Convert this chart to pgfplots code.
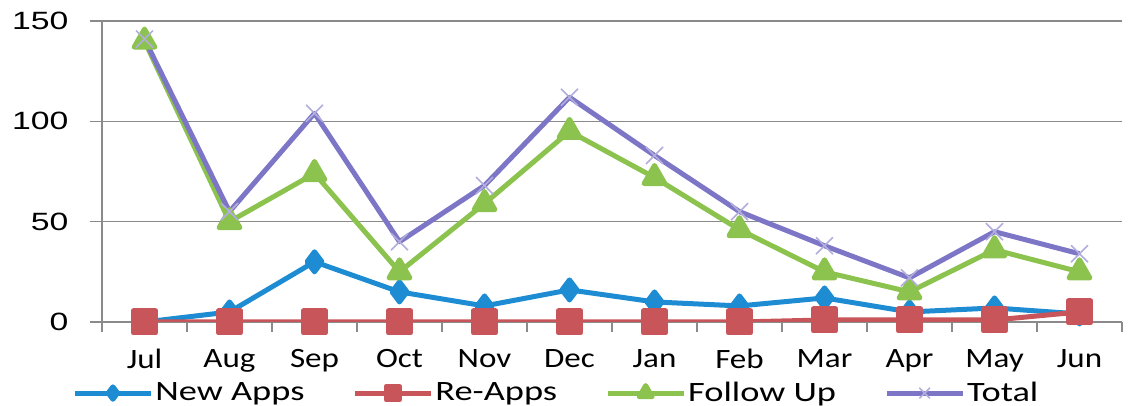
\documentclass[border=0pt]{standalone}
\usepackage{pgfplots}
\pgfplotsset{compat=1.18}
\usepackage{fontspec}
\setmainfont{Carlito}
\newfontfamily\numfont{Liberation Sans}

\definecolor{newapps}{HTML}{1E8CD2}
\definecolor{reapps}{HTML}{C8555A}
\definecolor{followup}{HTML}{8CC24E}
\definecolor{total}{HTML}{7D76C6}
\definecolor{axisgray}{HTML}{8A8A8A}

\newcommand\hs[1]{\scalebox{1.3}[1]{#1}}

\begin{document}
\begin{tikzpicture}
\begin{axis}[
  name=ax,
  scale only axis,
  width=510pt, height=150.5pt,
  xmin=-0.5, xmax=11.5, ymin=0, ymax=150,
  axis x line*=bottom, axis y line*=left,
  axis line style={axisgray, line width=0.7pt, -},
  tick align=outside,
  xtick={0,...,11},
  xticklabels={Jul,Aug,Sep,Oct,Nov,Dec,Jan,Feb,Mar,Apr,May,Jun},
  major x tick style={draw=none},
  minor xtick={-0.5,0.5,...,11.5},
  minor x tick style={axisgray, line width=0.6pt},
  minor tick length=5pt,
  ytick={0,50,100,150},
  major tick length=6pt,
  y tick style={axisgray, line width=0.6pt},
  ymajorgrids,
  grid style={axisgray, line width=0.7pt},
  /pgf/number format/assume math mode=true,
  xticklabel style={font=\fontsize{14}{14}\selectfont, xscale=1.18, yshift=-6.5pt, inner sep=1pt},
  yticklabel style={font=\numfont\fontsize{12.5}{12.5}\selectfont, xscale=1.35, anchor=east, xshift=-4.5pt},
  legend columns=4,
  legend style={draw=none, fill=none, inner sep=0pt,
    at={(-0.0294,-0.236)}, anchor=west,
    font=\fontsize{14}{14}\selectfont,
    nodes={inner sep=1pt},
    /tikz/every even column/.append style={column sep=23pt}},
  legend cell align=left,
  legend image code/.code={\draw[mark repeat=2,mark phase=2,every mark/.append style={scale=0.62}] plot coordinates {(0pt,0pt) (19pt,0pt) (38pt,0pt)};},
  line join=round,
]
% New applications
\addplot[newapps, line width=2.5pt, mark=diamond*, mark size=5pt, mark options={solid}]
  coordinates {(0,0) (1,5) (2,30) (3,15) (4,8) (5,16) (6,10) (7,8) (8,12) (9,5) (10,7) (11,4)};
\addlegendentry{\hs{New Apps}}
% Re-applications
\addplot[reapps, line width=2.5pt, mark=square*, mark size=5.5pt]
  coordinates {(0,0) (1,0) (2,0) (3,0) (4,0) (5,0) (6,0) (7,0) (8,1) (9,1) (10,1) (11,5)};
\addlegendentry{\hs{Re-Apps}}
% Follow-up visits
\addplot[followup, line width=2.5pt, mark=triangle*, mark size=6pt]
  coordinates {(0,140) (1,50) (2,74) (3,25) (4,59) (5,95) (6,72) (7,46) (8,25) (9,15) (10,36) (11,25)};
\addlegendentry{\hs{Follow Up}}
% Total of all three
\addplot[total, line width=2.5pt, mark=x, mark size=6pt, mark options={line width=0.8pt, total!60}]
  coordinates {(0,141) (1,55) (2,104) (3,40) (4,68) (5,112) (6,83) (7,55) (8,38) (9,22) (10,45) (11,34)};
\addlegendentry{\hs{Total}}
\end{axis}
\pgfresetboundingbox
\path[use as bounding box] ([shift={(-51pt,-42pt)}]ax.south west) rectangle ([shift={(4.5pt,10.5pt)}]ax.north east);
\end{tikzpicture}
\end{document}
